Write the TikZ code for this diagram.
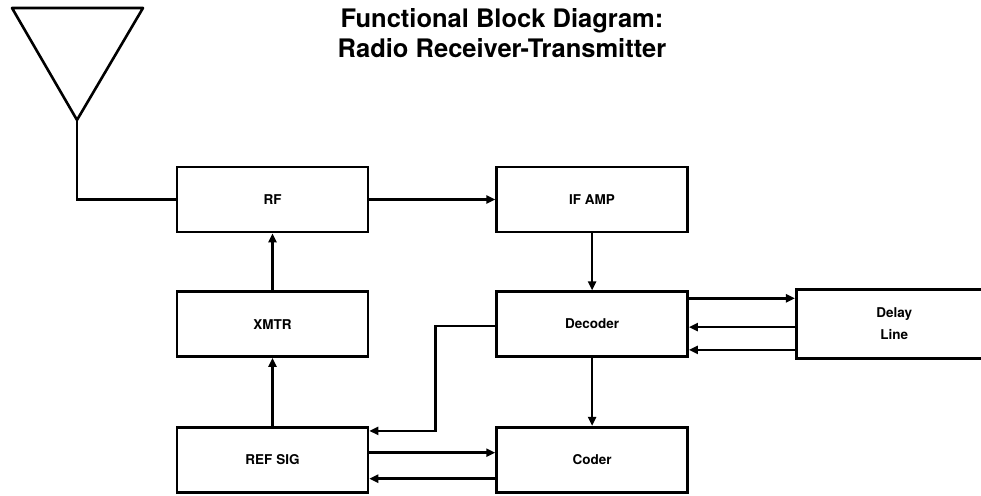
\documentclass[tikz,border=0pt]{standalone}
\usepackage{fontspec}
\setmainfont{TeX Gyre Heros}
\usetikzlibrary{positioning}
\usetikzlibrary{arrows.meta}

\begin{document}
\begin{tikzpicture}[x=1pt, y=-1pt, line width=2.6pt,
    block/.style={draw, rectangle, minimum width=191pt, minimum height=65pt, inner sep=0pt, font=\fontsize{13.5}{16}\selectfont\bfseries},
    arr/.style={-{Triangle[length=9pt,width=8pt]}}]
        \useasboundingbox (0,0) rectangle (981,495);
        \clip (0,0) rectangle (981,495);

        % title %
        \node[anchor=base, font=\fontsize{25.5}{29}\selectfont\bfseries] (title) at (502,28) {Functional Block Diagram:};
        \node[anchor=base, font=\fontsize{25.5}{29}\selectfont\bfseries] (subtitle) at (502,57) {Radio Receiver-Transmitter};

        % antenna %
        \coordinate (apex) at (77,120);
        \draw[line join=round] (12,8) -- (143,8) -- (apex) -- cycle;

        % nodes %
        \node[block] (rf) at (272.5,199.5) {RF};
        \node[block, right=126pt of rf] (ifamp) {IF AMP};
        \node[block, below=57pt of rf] (xmtr) {XMTR};
        \node[block, below=68pt of xmtr] (refsig) {REF SIG};
        \node[block, below=57pt of ifamp] (dec) {Decoder};
        \node[block, below=68pt of dec] (coder) {Coder};
        \node[block, minimum width=196pt, minimum height=69pt, align=center, right=106pt of dec] (delay) {Delay\\[6pt]Line};

        % edges %
        \draw (apex) |- (rf.west);
        \draw[arr] (rf) -- (ifamp);
        \draw[arr] (ifamp) -- (dec);
        \draw[arr] (dec) -- (coder);
        \draw[arr] (xmtr) -- (rf);
        \draw[arr] (refsig) -- (xmtr);
        \draw[arr] ([yshift=-8pt]dec.north east) -- ([yshift=-8pt]dec.north east -| delay.west);
        \draw[arr] ([yshift=-3pt]delay.west) -- ([yshift=-3pt]delay.west -| dec.east);
        \draw[arr] ([yshift=10pt]delay.south west) -- ([yshift=10pt]delay.south west -| dec.east);
        \draw[arr] ([yshift=-2pt]dec.west) -- ++(-60pt,0) |- ([yshift=-5pt]refsig.north east);
        \draw[arr] ([yshift=7pt]refsig.east) -- ([yshift=7pt]refsig.east -| coder.west);
        \draw[arr] ([yshift=-19pt]coder.west) -- ([yshift=-19pt]coder.west -| refsig.east);
\end{tikzpicture}
\end{document}
